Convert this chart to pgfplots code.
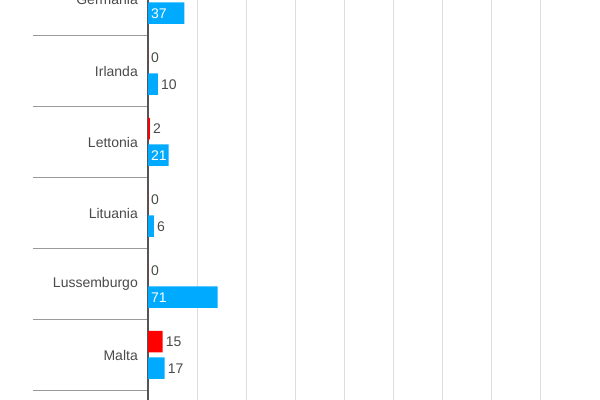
\documentclass[border=0pt]{standalone}
\usepackage{pgfplots}
\pgfplotsset{compat=1.18}
\usepackage{fontspec}
\setmainfont{Liberation Sans}
\definecolor{barred}{HTML}{FF0000}
\definecolor{barblue}{HTML}{00AAFF}
\definecolor{txtgray}{HTML}{4A4A4A}
\definecolor{axgray}{HTML}{555555}
\definecolor{sepgray}{HTML}{9A9A9A}
\definecolor{gridgray}{HTML}{DDDDDD}

\begin{document}
\begin{tikzpicture}
\useasboundingbox (0,0) rectangle (600bp,400bp);
\clip (0,0) rectangle (600bp,400bp);
\begin{axis}[
    at={(148bp,0)}, anchor=south west,
    scale only axis,
    width=452bp, height=400bp,
    xmin=0, xmax=461.22,
    ymin=-5.6338, ymax=0,
    xbar, bar width=21.5bp,
    axis lines*=left,
    x axis line style={draw=none},
    y axis line style={draw=axgray, line width=2bp},
    xtick={50,100,...,400}, xticklabels={},
    xmajorgrids, grid style={draw=gridgray, line width=1bp},
    ytick={0,-1,-2,-3,-4,-5},
    yticklabels={Germania,Irlanda,Lettonia,Lituania,Lussemburgo,Malta},
    minor ytick={-0.5,-1.5,-2.5,-3.5,-4.5,-5.5},
    tick align=outside,
    major tick length=0pt,
    minor tick length=115bp,
    minor tick style={draw=sepgray, line width=1.6bp},
    yticklabel style={font=\fontsize{14bp}{16bp}\selectfont, text=txtgray, inner sep=0pt, xshift=-10bp},
    clip=false,
    /pgf/number format/assume math mode=true,
    visualization depends on={rawx \as \rawx},
    nodes near coords={\pgfmathparse{\rawx>20}\ifnum\pgfmathresult=1 \pgfmathsetlengthmacro\barlen{0.98bp*\rawx}\makebox[0pt][r]{\makebox[\barlen][l]{\color{white}\pgfmathprintnumber{\rawx}}}\else\pgfmathprintnumber{\rawx}\fi},
    every node near coord/.append style={font=\fontsize{14bp}{16bp}\selectfont, text=txtgray, anchor=west, inner xsep=3bp, inner ysep=0pt},
]
% rosso
\addplot[fill=barred, draw=none, bar shift=13.25bp] coordinates {
    (0,-1) (2,-2) (0,-3) (0,-4) (15,-5)
};
% azzurro
\addplot[fill=barblue, draw=none, bar shift=-13.25bp] coordinates {
    (37,0) (10,-1) (21,-2) (6,-3) (71,-4) (17,-5)
};
\end{axis}
\end{tikzpicture}
\end{document}
